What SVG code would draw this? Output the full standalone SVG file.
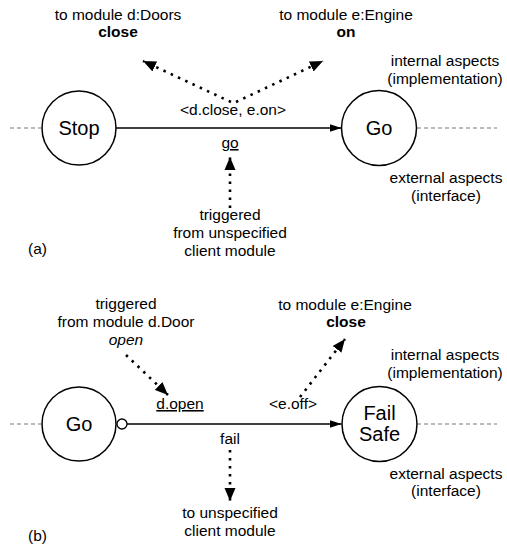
<svg xmlns="http://www.w3.org/2000/svg" width="507" height="550" viewBox="0 0 507 550">
  <style>
    .state { fill: #ffffff; stroke: #000000; stroke-width: 1.5; }
    .name { font-family: "Liberation Sans", Arial, sans-serif; font-size: 20px; fill: #000000; text-anchor: middle; }
    .lbl { font-family: "Liberation Sans", Arial, sans-serif; font-size: 15.5px; fill: #000000; text-anchor: middle; }
    .b { font-weight: bold; }
    .i { font-style: italic; }
    .u { text-decoration: underline; }
    .start { text-anchor: start; }
    .edge { fill: none; stroke: #000000; stroke-width: 1.5; }
    .call { fill: none; stroke: #000000; stroke-width: 2.6; stroke-dasharray: 2.5 5.5; }
    .ctx { fill: none; stroke: #777777; stroke-width: 1; stroke-dasharray: 4 3; }
  </style>
  <defs>
    <marker id="head" markerUnits="userSpaceOnUse" markerWidth="14" markerHeight="10" refX="12" refY="5" orient="auto">
      <path d="M0,1 L12,5 L0,9 Z" fill="#000000"/>
    </marker>
    <marker id="headBig" markerUnits="userSpaceOnUse" markerWidth="14" markerHeight="12" refX="13" refY="6" orient="auto">
      <path d="M0,0.5 L13,6 L0,11.5 Z" fill="#000000"/>
    </marker>
  </defs>

  <!-- context lines continuing beyond the states -->
  <g id="context">
    <line class="ctx" x1="10" y1="128" x2="41" y2="128"/>
    <line class="ctx" x1="417" y1="128" x2="497" y2="128"/>
    <line class="ctx" x1="10" y1="424" x2="41" y2="424"/>
    <line class="ctx" x1="417" y1="424" x2="497" y2="424"/>
  </g>

  <g id="connectors">
    <!-- (a) Stop -> Go -->
    <line class="edge" x1="116" y1="128" x2="341.5" y2="128" marker-end="url(#head)"/>
    <line class="call" x1="231" y1="102" x2="143" y2="61" marker-end="url(#headBig)"/>
    <line class="call" x1="236" y1="102" x2="323" y2="61" marker-end="url(#headBig)"/>
    <line class="call" x1="230" y1="208" x2="230" y2="157" marker-end="url(#headBig)"/>
    <!-- (b) Go -> Fail Safe -->
    <line class="edge" x1="127" y1="424" x2="341.5" y2="424" marker-end="url(#head)"/>
    <circle cx="122" cy="424" r="5" fill="#ffffff" stroke="#000000" stroke-width="1.3"/>
    <line class="call" x1="126" y1="355" x2="168" y2="395" marker-end="url(#headBig)"/>
    <line class="call" x1="300" y1="397" x2="345" y2="339" marker-end="url(#headBig)"/>
    <line class="call" x1="230" y1="450" x2="230" y2="501" marker-end="url(#headBig)"/>
  </g>

  <!-- (a) states -->
  <g id="stop">
    <circle class="state" cx="79" cy="128" r="37"/>
    <text class="name" x="79" y="135">Stop</text>
  </g>
  <g id="go-a">
    <circle class="state" cx="379" cy="128" r="37.5"/>
    <text class="name" x="379" y="135">Go</text>
  </g>

  <!-- (b) states -->
  <g id="go-b">
    <circle class="state" cx="79" cy="424" r="37"/>
    <text class="name" x="79" y="431">Go</text>
  </g>
  <g id="failsafe">
    <circle class="state" cx="379.5" cy="424" r="37.5"/>
    <text class="name" x="379.5" y="420">Fail</text>
    <text class="name" x="379.5" y="441">Safe</text>
  </g>

  <!-- (a) labels -->
  <g id="labels-a">
    <text class="lbl" x="118" y="20">to module d:Doors</text>
    <text class="lbl b" x="118" y="37">close</text>
    <text class="lbl" x="346" y="20">to module e:Engine</text>
    <text class="lbl b" x="346" y="37">on</text>
    <text class="lbl" x="445" y="66">internal aspects</text>
    <text class="lbl" x="445" y="84">(implementation)</text>
    <text class="lbl" x="233" y="115">&lt;d.close, e.on&gt;</text>
    <text class="lbl u" x="230" y="148">go</text>
    <text class="lbl" x="446" y="183">external aspects</text>
    <text class="lbl" x="446" y="201">(interface)</text>
    <text class="lbl" x="230" y="220">triggered</text>
    <text class="lbl" x="230" y="238">from unspecified</text>
    <text class="lbl" x="230" y="256">client module</text>
    <text class="lbl start" x="28" y="254">(a)</text>
  </g>

  <!-- (b) labels -->
  <g id="labels-b">
    <text class="lbl" x="126" y="309">triggered</text>
    <text class="lbl" x="126" y="327">from module d.Door</text>
    <text class="lbl i" x="126" y="345">open</text>
    <text class="lbl" x="345" y="310">to module e:Engine</text>
    <text class="lbl b" x="346" y="327">close</text>
    <text class="lbl" x="445" y="360">internal aspects</text>
    <text class="lbl" x="445" y="378">(implementation)</text>
    <text class="lbl u" x="180" y="409">d.open</text>
    <text class="lbl" x="293" y="409">&lt;e.off&gt;</text>
    <text class="lbl" x="230" y="444">fail</text>
    <text class="lbl" x="446" y="479">external aspects</text>
    <text class="lbl" x="446" y="496">(interface)</text>
    <text class="lbl" x="230" y="518">to unspecified</text>
    <text class="lbl" x="230" y="536">client module</text>
    <text class="lbl start" x="28" y="541">(b)</text>
  </g>
</svg>
